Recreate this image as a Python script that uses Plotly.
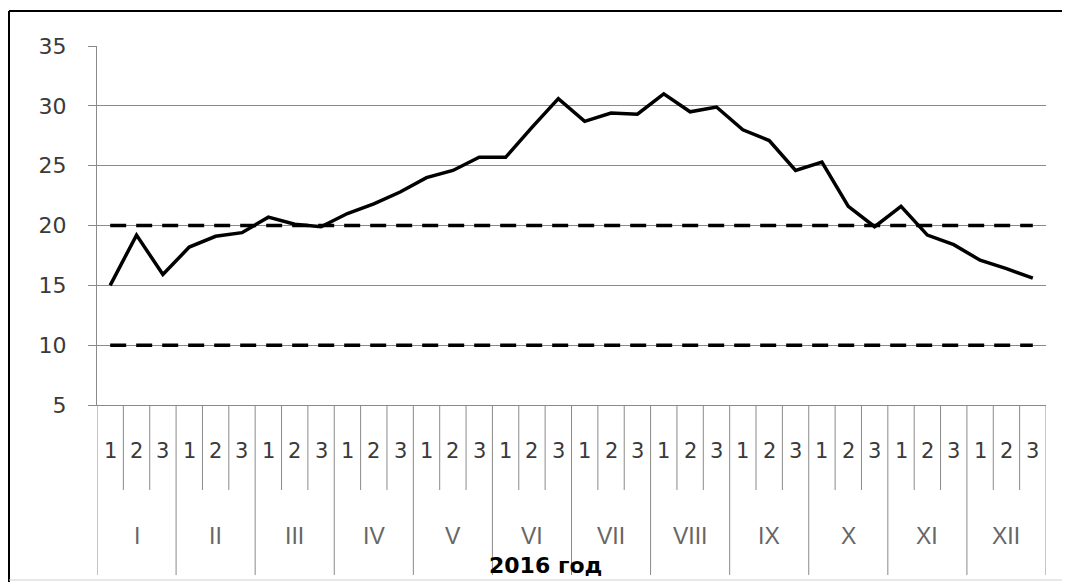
import plotly.graph_objects as go

# Data: ten-day (decade) values for 2016
MONTHS = ["I", "II", "III", "IV", "V", "VI", "VII", "VIII", "IX", "X", "XI", "XII"]
DECADES = ["1", "2", "3"]
VALUES = [
    15.0, 19.2, 15.9, 18.2, 19.1, 19.4, 20.7, 20.1, 19.9, 21.0, 21.8, 22.8,
    24.0, 24.6, 25.7, 25.7, 28.2, 30.6, 28.7, 29.4, 29.3, 31.0, 29.5, 29.9,
    28.0, 27.1, 24.6, 25.3, 21.6, 19.9, 21.6, 19.2, 18.4, 17.1, 16.4, 15.6,
]
THRESHOLDS = [20, 10]
YEAR_LABEL = "2016 год"

GRID = "#8a8a8a"
TEXT = "#3a3a3a"

n = len(VALUES)
xs = list(range(n))

fig = go.Figure()

# threshold dashed lines
for t in THRESHOLDS:
    fig.add_trace(go.Scatter(
        x=[xs[0], xs[-1]], y=[t, t], mode="lines",
        line=dict(color="black", width=3.5, dash="16px,10px"),
        hoverinfo="skip", showlegend=False,
    ))

# main series
fig.add_trace(go.Scatter(
    x=xs, y=VALUES, mode="lines",
    line=dict(color="black", width=3.5),
    showlegend=False,
))

# page body adds an 8px margin, so the figure starts at window (8, 8)
OFF = 8
PLOT_H = 359  # window y 46..405
PLOT_W = 949  # window x 97..1046

def py(px):
    return (405 - px) / PLOT_H

def pxp(px):
    return (px - 97) / PLOT_W

shapes = []
annotations = []

# separators below the axis
for k in range(n + 1):
    bottom = py(575) if k % 3 == 0 else py(490)
    shapes.append(dict(type="line", xref="x", yref="paper",
                       x0=k - 0.5, x1=k - 0.5, y0=0, y1=bottom,
                       line=dict(color=GRID, width=1)))

# decade labels
for i in xs:
    annotations.append(dict(x=i, y=py(451), xref="x", yref="paper",
                            xanchor="center", yanchor="middle",
                            text=DECADES[i % 3], showarrow=False,
                            font=dict(family="DejaVu Sans", size=21, color=TEXT)))

# month labels
for m, name in enumerate(MONTHS):
    annotations.append(dict(x=m * 3 + 1, y=py(536), xref="x", yref="paper",
                            xanchor="center", yanchor="middle",
                            text=name, showarrow=False,
                            font=dict(family="Liberation Sans", size=23, color="#666666")))

annotations.append(dict(x=pxp(545), y=py(565), xref="paper", yref="paper",
                        xanchor="center", yanchor="middle",
                        text="<b>" + YEAR_LABEL + "</b>", showarrow=False,
                        font=dict(family="DejaVu Sans", size=22, color="black")))

# outer frame: top and left black, bottom light
shapes.append(dict(type="line", xref="paper", yref="paper",
                   x0=pxp(9), x1=pxp(1070), y0=py(11), y1=py(11),
                   line=dict(color="black", width=2)))
shapes.append(dict(type="line", xref="paper", yref="paper",
                   x0=pxp(9), x1=pxp(9), y0=py(11), y1=py(582),
                   line=dict(color="black", width=2)))
shapes.append(dict(type="line", xref="paper", yref="paper",
                   x0=pxp(9), x1=pxp(1070), y0=py(580), y1=py(580),
                   line=dict(color="#d0d0d0", width=1)))

fig.update_layout(
    width=1070 - OFF, height=582 - OFF,
    plot_bgcolor="white", paper_bgcolor="white",
    margin=dict(l=97 - OFF, r=1070 - 1046, t=46 - OFF, b=582 - 405),
    shapes=shapes, annotations=annotations,
    showlegend=False,
)
fig.update_xaxes(
    range=[-0.5, n - 0.5], showticklabels=False, showgrid=False,
    zeroline=False, showline=True, linecolor=GRID, linewidth=1,
)
fig.update_yaxes(
    range=[5, 35], dtick=5, showgrid=True, gridcolor=GRID, gridwidth=1,
    zeroline=False, showline=True, linecolor=GRID, linewidth=1,
    ticks="outside", ticklen=8, tickcolor=GRID, ticklabelstandoff=17,
    tickfont=dict(family="DejaVu Sans", size=22, color=TEXT),
)

fig.write_html("out.html")
